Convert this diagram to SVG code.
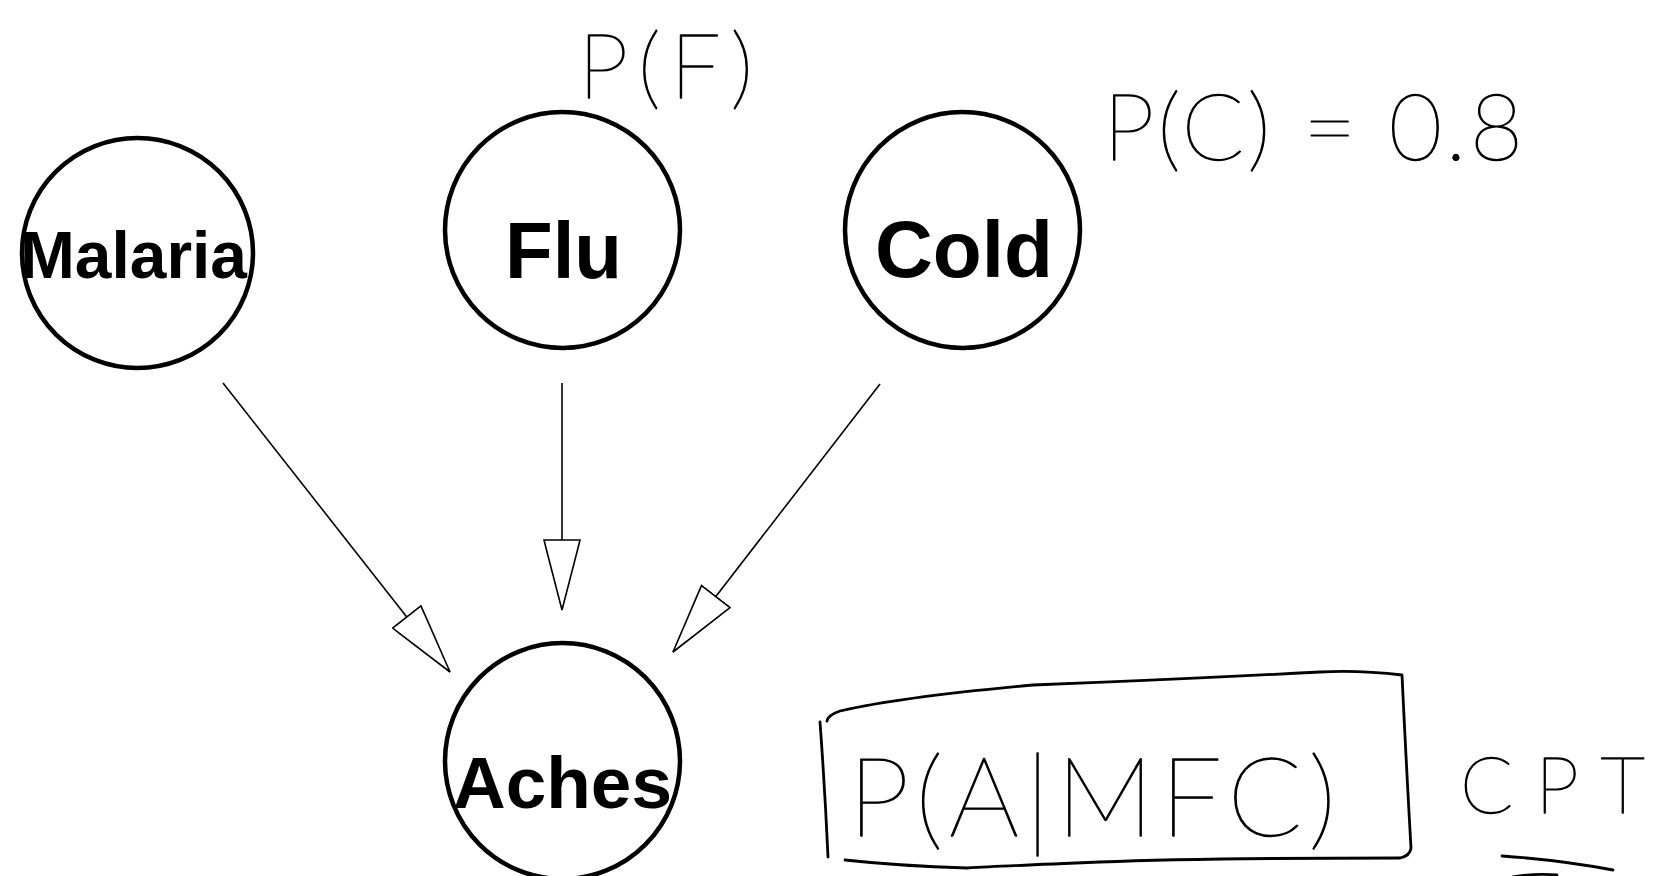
<svg xmlns="http://www.w3.org/2000/svg" width="1657" height="876" viewBox="0 0 1657 876">
<style>
.node ellipse{fill:#fff;stroke:#000;stroke-width:4.5}
.node text{font-family:"Liberation Sans",Arial,sans-serif;font-weight:bold;fill:#000;text-anchor:middle}
.edge{fill:none;stroke:#000;stroke-width:1.6}
.hand{font-family:Lato,"Open Sans","DejaVu Sans",sans-serif;font-weight:100;fill:#000;stroke:#000;stroke-width:1.3;stroke-linejoin:round}
.ink{fill:none;stroke:#000;stroke-width:2.8;stroke-linecap:round;stroke-linejoin:round}
</style>
<defs>
<marker id="hollow" viewBox="0 0 72 38" markerWidth="72" markerHeight="38" refX="71" refY="19" orient="auto" markerUnits="userSpaceOnUse">
<path d="M1,1 L9,3 L71,19 L9,35 L1,37 Z" fill="#fff" stroke="#000" stroke-width="1.6"/>
</marker>
</defs>
<rect width="1657" height="876" fill="#fff"/>
<g id="connectors">
<path class="edge" d="M223,383 L450,672" marker-end="url(#hollow)"/>
<path class="edge" d="M562,383 L562,610" marker-end="url(#hollow)"/>
<path class="edge" d="M880,384 L673,652" marker-end="url(#hollow)"/>
</g>
<g id="node-malaria" class="node">
<ellipse cx="137.5" cy="253" rx="115.5" ry="115"/>
<text x="133.5" y="278" font-size="66" textLength="227" lengthAdjust="spacingAndGlyphs">Malaria</text>
</g>
<g id="node-flu" class="node">
<ellipse cx="562.5" cy="230" rx="117.5" ry="118"/>
<text x="563.5" y="278" font-size="80" textLength="117" lengthAdjust="spacingAndGlyphs">Flu</text>
</g>
<g id="node-cold" class="node">
<ellipse cx="962.5" cy="230" rx="117.5" ry="118"/>
<text x="964" y="277" font-size="80" textLength="178" lengthAdjust="spacingAndGlyphs">Cold</text>
</g>
<g id="node-aches" class="node">
<ellipse cx="562.5" cy="761" rx="117.5" ry="118"/>
<text x="562.5" y="808" font-size="73" textLength="219" lengthAdjust="spacingAndGlyphs">Aches</text>
</g>
<g id="annotations">
<text class="hand" x="578" y="98" font-size="90" textLength="175" lengthAdjust="spacing">P(F)</text>
<text class="hand" x="1103" y="160" font-size="92" textLength="420" lengthAdjust="spacing">P(C) = 0.8</text>
<path class="ink" d="M820,722 Q825,790 828,857"/>
<path class="ink" d="M827,721 Q828,715 840,711 Q900,697 1033,685 Q1167,680 1320,672 Q1360,670 1402,675 Q1406,760 1411,848 Q1410,856 1400,858 Q1200,858 1100,862 Q1000,866 967,868 Q900,866 845,860"/>
<text class="hand" x="848" y="836" font-size="110" textLength="488" lengthAdjust="spacing">P(A|MFC)</text>
<text class="hand" x="1460" y="813" font-size="78" textLength="185" lengthAdjust="spacing">CPT</text>
<path class="ink" d="M1502,856 Q1560,860 1613,870"/>
<path class="ink" d="M1513,877 Q1535,873 1557,875"/>
</g>
</svg>
